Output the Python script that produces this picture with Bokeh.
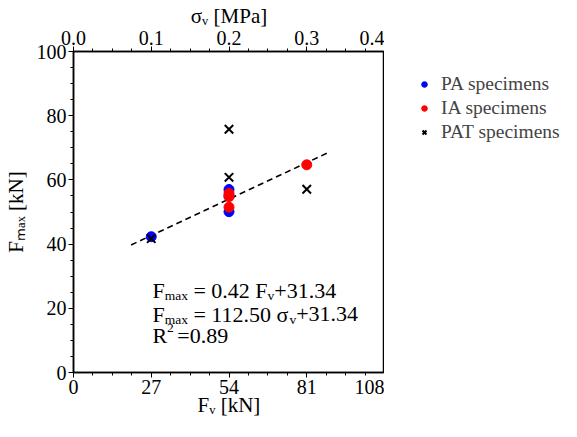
from bokeh.plotting import figure
from bokeh.layouts import row
from bokeh.models import (Range1d, LinearAxis, FixedTicker, Label, PrintfTickFormatter,
                          Legend, LegendItem)
from bokeh.embed import file_html
from bokeh.resources import INLINE

# ---- data ----
pa_fv = [27, 54, 54, 54]
pa_fmax = [42.3, 57.0, 55.0, 50.1]
ia_fv = [54, 54, 54, 81]
ia_fmax = [55.8, 54.8, 51.5, 64.7]
pat_fv = [27, 54, 54, 81]
pat_fmax = [41.7, 75.8, 60.8, 57.1]
fit_slope = 0.42
fit_intercept = 31.34
fit_fv = [20, 88]
x_ticks = [0, 27, 54, 81, 108]
y_ticks = [0, 20, 40, 60, 80, 100]
sigma_ticks = [0.0, 0.1, 0.2, 0.3, 0.4]
legend_labels = ["PA specimens", "IA specimens", "PAT specimens"]

FONT = "Liberation Serif"
FS = 20

PA_STYLE = dict(marker="circle", size=10, color="#0000ff")
IA_STYLE = dict(marker="circle", size=10, color="#ff0000")
PAT_STYLE = dict(marker="x", size=12, line_color="black", line_width=2)

p = figure(width=384, height=421, output_backend="svg", toolbar_location=None,
           x_range=Range1d(0, 108), y_range=Range1d(0, 100),
           min_border_left=65, min_border_right=0, min_border_top=42, min_border_bottom=49)
p.xgrid.visible = False
p.ygrid.visible = False
p.outline_line_color = "black"
p.outline_line_width = 1.5
p.background_fill_color = None
p.border_fill_color = "white"

p.extra_x_ranges = {"sigma": Range1d(0, 0.4)}
top = LinearAxis(x_range_name="sigma")
p.add_layout(top, "above")
bottom = p.below[0]
left = p.left[0]

def style_axis(ax, ticks, minor, label):
    ax.ticker = FixedTicker(ticks=ticks, minor_ticks=minor)
    ax.major_label_text_font = FONT
    ax.major_label_text_font_size = f"{FS}px"
    ax.major_label_text_color = "black"
    ax.axis_line_color = "black"
    ax.axis_line_width = 1.5
    ax.major_tick_line_color = "black"
    ax.minor_tick_line_color = "black"
    ax.major_tick_in = 0
    ax.major_tick_out = 5
    ax.minor_tick_in = 0
    ax.minor_tick_out = 3
    ax.major_label_standoff = 2
    ax.axis_label = label
    ax.axis_label_text_font = FONT
    ax.axis_label_text_font_size = "21px"
    ax.axis_label_text_font_style = "normal"
    ax.axis_label_text_color = "black"
    ax.axis_label_standoff = 0

style_axis(bottom, x_ticks, [i * 6.75 for i in range(17)], "F\u1d65 [kN]")
style_axis(left, y_ticks, [i * 5 for i in range(21)], "F\u2098\u2090\u2093 [kN]")
style_axis(top, sigma_ticks, [i * 0.025 for i in range(17)], "σ\u1d65 [MPa]")
top.formatter = PrintfTickFormatter(format="%.1f")
left.axis_label_standoff = 6
bottom.axis_label_standoff = -4

# fit line
fit_y = [fit_slope * v + fit_intercept for v in fit_fv]
p.line(fit_fv, fit_y, line_color="black", line_width=1.6, line_dash="6 4")

p.scatter(pa_fv, pa_fmax, **PA_STYLE)
p.scatter(ia_fv, ia_fmax, **IA_STYLE)
p.scatter(pat_fv, pat_fmax, **PAT_STYLE)

# rich text helper (Times metrics)
MAIN = 22
SUBF = 13.5
W = {'F': .556, 'm': .778, 'a': .444, 'x': .5, ' ': .25, '=': .564, '.': .25, '+': .564,
     'v': .5, 'σ': .55, 'R': .667, '[': .333, ']': .333, 'k': .5, 'N': .722, 'M': .889,
     'P': .556}
def width(s, fs):
    return sum(W.get(c, .5) for c in s) * fs

def rich(x, y, pieces):
    sizes = {"n": MAIN, "sub": SUBF, "sup": SUBF}
    off = 0.0
    for t, k in pieces:
        if k == "gap":
            off += t
            continue
        fs = sizes[k]
        lead = len(t) - len(t.lstrip(" "))
        off += lead * W[' '] * fs
        core = t.strip(" ")
        shift = {"n": 0, "sub": -5, "sup": 8}[k]
        p.add_layout(Label(x=x, y=y, text=core, x_offset=off, y_offset=shift,
                           text_font=FONT, text_font_size=f"{fs}px",
                           text_color="black", text_baseline="alphabetic",
                           text_align="left"))
        off += width(core, fs)
        trail = len(t) - len(t.rstrip(" "))
        off += trail * W[' '] * fs

rich(27.4, 25.5, [("F", "n"), ("max", "sub"), (" = 0.42 F", "n"), ("v", "sub"), ("+31.34", "n")])
rich(27.4, 18.2, [("F", "n"), ("max", "sub"), (" = 112.50 σ", "n"), ("v", "sub"), ("+31.34", "n")])
rich(27.4, 11.5, [("R", "n"), ("2", "sup"), (3.5, "gap"), ("=0.89", "n")])

# legend panel: same series drawn out of view there, used only for legend glyphs
q = figure(width=177, height=421, output_backend="svg", toolbar_location=None,
           x_axis_location=None, y_axis_location=None,
           x_range=Range1d(-1000, -999), y_range=Range1d(-1000, -999),
           min_border_left=0, min_border_right=0, min_border_top=0, min_border_bottom=0)
q.xgrid.visible = False
q.ygrid.visible = False
q.outline_line_color = None
q.background_fill_color = None
q.border_fill_color = "white"
g_pa = q.scatter(pa_fv, pa_fmax, **PA_STYLE)
g_ia = q.scatter(ia_fv, ia_fmax, **IA_STYLE)
g_pat = q.scatter(pat_fv, pat_fmax, **PAT_STYLE)

lg = Legend(items=[LegendItem(label=legend_labels[0], renderers=[g_pa]),
                   LegendItem(label=legend_labels[1], renderers=[g_ia]),
                   LegendItem(label=legend_labels[2], renderers=[g_pat])])
lg.location = (33, 229)
lg.border_line_color = None
lg.background_fill_alpha = 0
lg.padding = 0
lg.margin = 0
lg.spacing = 2
lg.glyph_width = 14
lg.glyph_height = 20
lg.label_height = 20
lg.label_standoff = 10
lg.label_text_font = FONT
lg.label_text_font_size = "19.5px"
q.add_layout(lg, "center")

open("out.html", "w").write(file_html(row(p, q), INLINE))
